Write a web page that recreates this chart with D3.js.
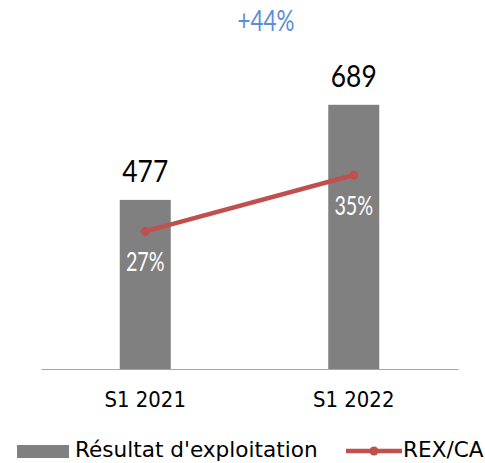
<!DOCTYPE html>
<html>
<head>
<meta charset="utf-8">
<script src="https://cdn.jsdelivr.net/npm/d3@7"></script>
<style>
  body { margin: 0; background: #fff; }
  .num { font-family: Lato, "Open Sans", sans-serif; }
  .lab { font-family: "DejaVu Sans", sans-serif; }
</style>
</head>
<body>
<div id="chart"></div>
<script>
// data
const categories = ["S1 2021", "S1 2022"];
const resultat = [477, 689];
const rexCa = [27, 35];
const growthLabel = "+44%";
const legendLabels = ["Résultat d'exploitation", "REX/CA"];

const W = 485, H = 463;
const plot = { left: 41, right: 458, top: 55, bottom: 369 };

const svg = d3.select("#chart").append("svg")
    .attr("width", W)
    .attr("height", H);

// text squeezed a little horizontally (the source font is narrower)
const place = (tx, ty, sx) => `translate(${tx},${ty}) scale(${sx},1)`;

// scales
const x = d3.scaleBand().domain(categories).range([plot.left, plot.right]).padding(0);
const y = d3.scaleLinear().domain([100, 800]).range([plot.bottom, plot.top]);
const y2 = d3.scaleLinear().domain([7.5, 52]).range([plot.bottom, plot.top]);
const barW = 51;
const cx = c => x(c) + x.bandwidth() / 2;

// bars
svg.selectAll("rect.bar")
    .data(categories)
    .enter().append("rect")
    .attr("class", "bar")
    .attr("x", d => cx(d) - barW / 2)
    .attr("width", barW)
    .attr("y", (d, i) => y(resultat[i]))
    .attr("height", (d, i) => plot.bottom - y(resultat[i]))
    .style("fill", "#808080");

// x axis
const xAxis = svg.append("g")
    .attr("transform", `translate(0,${plot.bottom})`)
    .call(d3.axisBottom(x).tickSize(0).tickPadding(0));
xAxis.select(".domain").attr("stroke", "#a6a6a6").attr("stroke-width", 1.2);
xAxis.selectAll("text")
    .attr("class", "lab")
    .attr("dy", 0)
    .attr("y", 0)
    .attr("transform", place(0, 38, 0.96))
    .style("font-size", "20.5px")
    .style("fill", "#000");

// bar value labels
svg.selectAll("text.val")
    .data(categories)
    .enter().append("text")
    .attr("class", "num val")
    .attr("transform", (d, i) => place(cx(d), y(resultat[i]) - 18, 0.85))
    .attr("text-anchor", "middle")
    .style("font-size", "31px")
    .text((d, i) => resultat[i]);

// line
const pts = categories.map((c, i) => ({ c, v: rexCa[i] }));
const line = d3.line().x(d => cx(d.c)).y(d => y2(d.v));
svg.append("path")
    .datum(pts)
    .attr("d", line)
    .style("fill", "none")
    .style("stroke", "#c0504d")
    .style("stroke-width", 4.5);
svg.selectAll("circle.pt")
    .data(pts)
    .enter().append("circle")
    .attr("cx", d => cx(d.c))
    .attr("cy", d => y2(d.v))
    .attr("r", 4.5)
    .style("fill", "#c0504d");

// line labels
svg.selectAll("text.pct")
    .data(pts)
    .enter().append("text")
    .attr("class", "num pct")
    .attr("transform", d => place(cx(d.c), y2(d.v) + 40, 0.76))
    .attr("text-anchor", "middle")
    .style("font-size", "26px")
    .style("fill", "#fff")
    .text(d => d.v + "%");

// growth label
svg.append("text")
    .attr("class", "num")
    .attr("transform", place(266, 31, 0.8))
    .attr("text-anchor", "middle")
    .style("font-size", "28px")
    .style("fill", "#5b8ed6")
    .text(growthLabel);

// legend
svg.append("rect")
    .attr("x", 17).attr("y", 445)
    .attr("width", 52).attr("height", 13)
    .style("fill", "#808080");
svg.append("text")
    .attr("class", "lab")
    .attr("x", 75).attr("y", 457)
    .style("font-size", "21.6px")
    .text(legendLabels[0]);
svg.append("line")
    .attr("x1", 346).attr("x2", 402)
    .attr("y1", 451).attr("y2", 451)
    .style("stroke", "#c0504d")
    .style("stroke-width", 4.5);
svg.append("circle")
    .attr("cx", 374).attr("cy", 451).attr("r", 4.5)
    .style("fill", "#c0504d");
svg.append("text")
    .attr("class", "lab")
    .attr("x", 403).attr("y", 457)
    .style("font-size", "21.6px")
    .text(legendLabels[1]);
</script>
</body>
</html>
